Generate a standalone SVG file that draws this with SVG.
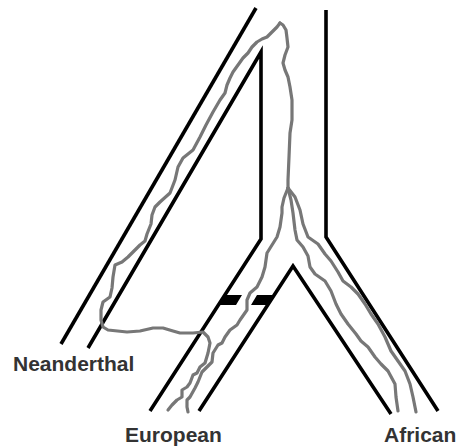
<svg xmlns="http://www.w3.org/2000/svg" width="456" height="448" viewBox="0 0 456 448">
<style>
.wall{fill:none;stroke:#000;stroke-width:3.6;stroke-linejoin:miter}
.lin{fill:none;stroke:#777;stroke-width:3.2;stroke-linejoin:round;stroke-linecap:round}
.bar{fill:#000}
.lbl{font-family:"Liberation Sans",Arial,sans-serif;font-weight:bold;font-size:21px;fill:#333}
</style>
<rect width="456" height="448" fill="#fff"/>
<g id="tree">
<path class="wall" d="M256,8 L61,344"/>
<path class="wall" d="M88,348 L261,52 L261,239 L150,411"/>
<path class="wall" d="M326,10 L326,237 L438,411"/>
<path class="wall" d="M199,411 L293,266 L391,414"/>
</g>
<g id="barriers">
<polygon class="bar" points="225,295 242,295 236,305 218,305"/>
<polygon class="bar" points="257,295 274,295 268,305 251,305"/>
</g>
<g id="lineages">
<polyline class="lin" points="280,23 277,27 272,32 267,37 262,39 257,42 252,47 248,53 243,58 238,65 233,72 230,78 227,85 225,93 220,100 213,112 206,125 200,137 193,150 183,158 178,167 175,180 170,193 160,202 155,207 152,215 151,224 147,234 145,241 140,245 135,250 128,257 122,262 115,265 113,277 112,288 110,297 103,302 101,310 101,320 103,327 108,330 127,332 140,331 153,328 163,328 173,331 180,333 193,333 203,332 208,337 210,343 208,353 205,363 200,367 197,373 193,375 190,383 187,387 182,390 182,397 177,400 172,405 168,410"/>
<polyline class="lin" points="280,23 283,25 286,30 287,38 288,47 285,55 283,63 285,70 288,77 290,87 292,100 292,120 290,133 289,157 288,180 288,188"/>
<polyline class="lin" points="288,188 284,198 282,207 282,213 280,227 277,237 272,245 267,253 265,267 262,277 257,287 250,293 247,300 247,310 240,320 237,325 230,330 225,337 222,343 218,345 213,353 212,362 207,367 202,372 198,382 195,388 190,397 187,400 187,407 188,412"/>
<polyline class="lin" points="288,188 291,200 293,213 295,230 297,240 303,247 308,256 310,267 315,274 325,281 331,291 336,304 341,314 348,324 356,334 361,341 368,347 375,357 381,364 388,371 395,384 396,397 398,411"/>
<polyline class="lin" points="288,188 295,197 300,210 303,224 308,237 318,244 325,254 331,261 338,272 343,281 351,287 358,294 365,304 371,314 378,324 385,337 391,351 398,361 405,371 410,384 413,397 416,412"/>
</g>
<g id="labels">
<text class="lbl" x="13" y="371">Neanderthal</text>
<text class="lbl" x="125" y="442">European</text>
<text class="lbl" x="384" y="442">African</text>
</g>
</svg>
